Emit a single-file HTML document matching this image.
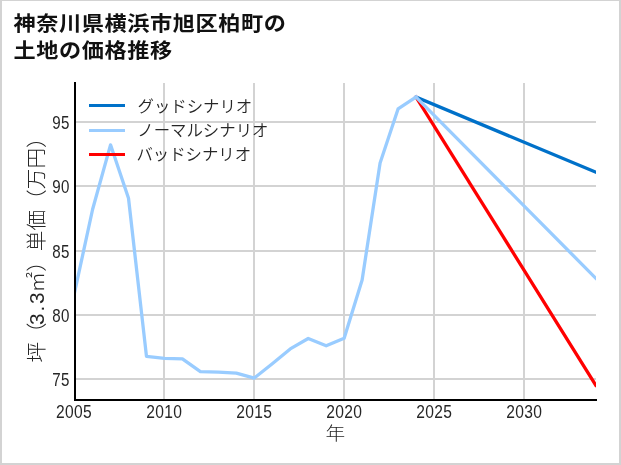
<!DOCTYPE html>
<html lang="ja">
<head>
<meta charset="utf-8">
<title>神奈川県横浜市旭区柏町の土地の価格推移</title>
<style>
html,body{margin:0;padding:0;background:#ffffff;}
body{width:621px;height:465px;overflow:hidden;position:relative;font-family:"Liberation Sans", "Noto Sans CJK JP", sans-serif;}
svg{position:absolute;left:0;top:0;display:block;}
svg text{font-family:"Liberation Sans", "Noto Sans CJK JP", sans-serif;}
</style>
</head>
<body>
<svg width="621" height="465" viewBox="0 0 621 465">
<rect x="0" y="0" width="621" height="465" fill="#d3d3d3"/>
<rect x="2" y="1" width="617" height="462" fill="#ffffff"/>
<g fill="#d3d3d3" shape-rendering="crispEdges">
<rect x="163" y="83" width="2" height="316"/>
<rect x="253" y="83" width="2" height="316"/>
<rect x="343" y="83" width="2" height="316"/>
<rect x="433" y="83" width="2" height="316"/>
<rect x="523" y="83" width="2" height="316"/>
<rect x="76" y="378" width="520" height="2"/>
<rect x="76" y="314" width="520" height="2"/>
<rect x="76" y="250" width="520" height="2"/>
<rect x="76" y="185" width="520" height="2"/>
<rect x="76" y="121" width="520" height="2"/>
</g>
<defs><clipPath id="ax"><rect x="74" y="83" width="522" height="318"/></clipPath></defs>
<g clip-path="url(#ax)" fill="none" stroke-width="3.3" stroke-linejoin="round" stroke-linecap="square">
<polyline points="416.03,97.04 595.73,172.22" stroke="#0071c9"/>
<polyline points="416.03,97.04 595.73,385.14" stroke="#ff0000"/>
<polyline points="74.60,292.36 92.57,209.48 110.54,144.84 128.51,198.30 146.48,356.36 164.45,358.28 182.42,358.80 200.39,371.65 218.36,372.03 236.33,373.06 254.30,378.07 272.27,363.68 290.24,348.90 308.21,338.49 326.18,345.82 344.15,338.24 362.12,279.90 380.09,162.96 398.06,108.99 416.03,97.04" stroke="#99ccff"/>
<polyline points="416.03,97.04 595.73,278.23" stroke="#99ccff"/>
</g>
<g fill="#000000" shape-rendering="crispEdges">
<rect x="74" y="82" width="2" height="319"/>
<rect x="74" y="399" width="523" height="2"/>
</g>
<g font-size="16" fill="#262626" letter-spacing="0.35">
<text transform="translate(73.97,418.2) scale(0.975,1.11)" text-anchor="middle">2005</text>
<text transform="translate(164.17,418.2) scale(0.975,1.11)" text-anchor="middle">2010</text>
<text transform="translate(254.17,418.2) scale(0.975,1.11)" text-anchor="middle">2015</text>
<text transform="translate(344.17,418.2) scale(0.975,1.11)" text-anchor="middle">2020</text>
<text transform="translate(434.17,418.2) scale(0.975,1.11)" text-anchor="middle">2025</text>
<text transform="translate(524.17,418.2) scale(0.975,1.11)" text-anchor="middle">2030</text>
<text transform="translate(69.73,385.5) scale(0.945,1.11)" text-anchor="end">75</text>
<text transform="translate(69.73,321.5) scale(0.945,1.11)" text-anchor="end">80</text>
<text transform="translate(69.73,257.5) scale(0.945,1.11)" text-anchor="end">85</text>
<text transform="translate(69.73,192.5) scale(0.945,1.11)" text-anchor="end">90</text>
<text transform="translate(69.73,128.5) scale(0.945,1.11)" text-anchor="end">95</text>
</g>
<text transform="translate(335.4,440.1) scale(0.985,0.91)" font-size="20" font-weight="300" fill="#262626" text-anchor="middle">年</text>
<text transform="translate(44,244.9) rotate(-90)" font-size="20.65" font-weight="300" fill="#262626" text-anchor="middle" dx="0 -1.5 -2.3 1.9 1.9 0">坪（3.3㎡）単価（万円）</text>
<g shape-rendering="crispEdges">
<rect x="89" y="104" width="36" height="3" fill="#0071c9"/>
<rect x="89" y="129" width="36" height="3" fill="#99ccff"/>
<rect x="89" y="153" width="36" height="3" fill="#ff0000"/>
</g>
<g font-size="16.4" fill="#262626" font-weight="350">
<text x="137.5" y="112.00">グッドシナリオ</text>
<text x="137.3" y="136.10">ノーマルシナリオ</text>
<text x="136.4" y="160.20">バッドシナリオ</text>
</g>
<g font-size="20.8" font-weight="700" fill="#111111" letter-spacing="0.59">
<text transform="translate(13.45,31.35) scale(1.065,1)">神奈川県横浜市旭区柏町の</text>
<text transform="translate(13.45,58.3) scale(1.065,1)">土地の価格推移</text>
</g>
</svg>
</body>
</html>
